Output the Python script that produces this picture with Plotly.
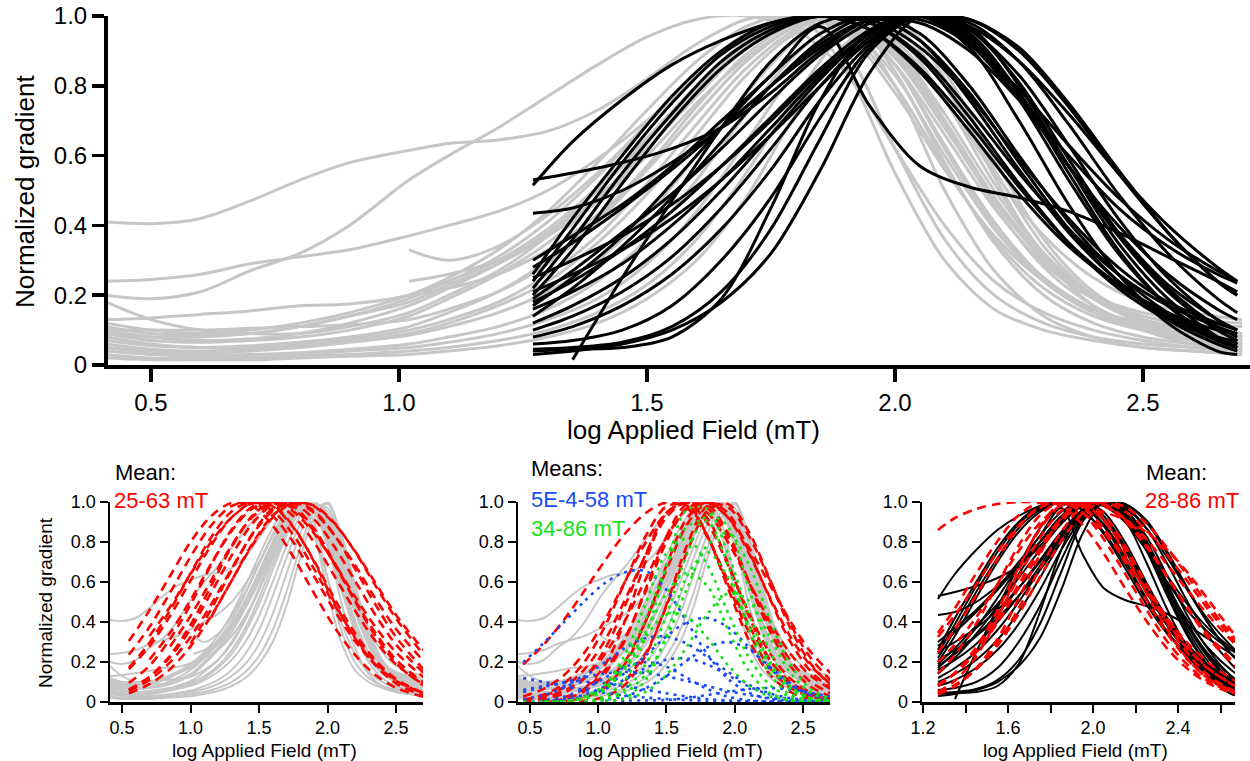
import plotly.graph_objects as go

# ---------------- data ----------------
X_GRAY = [0.41, 0.5, 0.6, 0.7, 0.8, 0.9, 1.02, 1.1, 1.2, 1.3, 1.4, 1.5, 1.6, 1.7, 1.8, 1.9, 2.0, 2.1, 2.2, 2.3, 2.4, 2.5, 2.6, 2.7]
N = None
GRAY = [
    [.41, .405, .42, .47, .53, .58, .615, .635, .645, .67, .73, .82, .92, .99, 1.00, .95, .78, .56, .37, .24, .16, .12, .10, .08],
    [.20, .19, .21, .27, .32, .40, .53, .60, .68, .77, .86, .94, .99, 1.00, .96, .84, .62, .40, .24, .15, .10, .07, .05, .04],
    [.24, .245, .26, .29, .31, .33, .37, .40, .44, .50, .59, .70, .83, .94, 1.00, .99, .88, .68, .47, .30, .19, .13, .10, .08],
    [.18, .13, .10, .09, .09, .11, .15, .20, .27, .37, .50, .65, .80, .93, 1.00, .96, .80, .57, .36, .22, .14, .10, .08, .07],
    [.13, .135, .145, .155, .17, .175, .20, .24, .31, .41, .54, .69, .84, .95, 1.00, .90, .62, .36, .20, .12, .08, .06, .05, .04],
    [.12, .10, .09, .10, .12, .15, .20, .25, .33, .44, .58, .73, .87, .97, 1.00, .85, .55, .30, .16, .10, .07, .05, .04, .03],
    [.11, .09, .085, .09, .11, .14, .19, .24, .30, .39, .51, .65, .80, .93, 1.00, .98, .86, .66, .45, .29, .19, .14, .12, .11],
    [.10, .08, .07, .075, .09, .12, .17, .22, .29, .38, .50, .64, .79, .92, .99, 1.00, .90, .70, .48, .30, .19, .13, .10, .08],
    [.09, .07, .065, .07, .08, .10, .14, .19, .26, .35, .47, .62, .78, .91, .99, 1.00, .86, .62, .40, .24, .15, .10, .07, .05],
    [.08, .06, .05, .055, .065, .08, .11, .15, .21, .30, .42, .57, .74, .89, .98, 1.00, .91, .72, .50, .32, .20, .14, .11, .09],
    [.07, .055, .05, .05, .06, .075, .10, .13, .18, .26, .37, .52, .69, .85, .96, 1.00, .84, .58, .35, .20, .12, .08, .06, .05],
    [.06, .045, .04, .045, .055, .07, .09, .12, .17, .24, .35, .49, .66, .83, .95, .98, .80, .50, .27, .14, .08, .05, .04, .03],
    [.05, .04, .035, .04, .05, .065, .085, .11, .15, .21, .30, .43, .60, .78, .93, 1.00, .92, .70, .46, .28, .17, .11, .08, .06],
    [.05, .035, .03, .03, .035, .045, .06, .08, .11, .16, .24, .36, .53, .72, .89, .99, .95, .76, .52, .32, .19, .12, .08, .06],
    [.04, .03, .025, .025, .03, .04, .05, .065, .09, .13, .19, .29, .44, .64, .84, .98, .97, .80, .56, .34, .20, .12, .08, .05],
    [.03, .02, .02, .02, .025, .03, .04, .05, .07, .10, .15, .23, .36, .55, .77, .95, .99, .84, .59, .36, .21, .13, .08, .05],
    [.02, .015, .015, .015, .02, .025, .03, .04, .055, .08, .12, .19, .30, .48, .72, .92, 1.00, .82, .54, .31, .17, .10, .06, .04],
    [.09, .08, .08, .09, .11, .14, .18, .23, .29, .37, .47, .60, .75, .88, .97, 1.00, .93, .76, .55, .37, .25, .18, .15, .13],
    [.10, .10, .10, .105, .11, .115, .13, .16, .21, .29, .41, .56, .72, .87, .97, 1.00, .89, .69, .48, .31, .20, .15, .13, .12],
    [N, N, N, N, N, N, .33, .30, .34, .43, .55, .69, .83, .94, 1.00, .97, .83, .60, .39, .24, .15, .10, .08, .06],
    [N, N, N, N, N, N, .24, .26, .30, .37, .48, .62, .77, .91, .99, .99, .86, .63, .41, .25, .16, .11, .09, .07],
    [N, N, N, N, N, N, .20, .22, .26, .33, .43, .56, .72, .87, .97, 1.00, .90, .70, .48, .30, .19, .13, .10, .08],
]

X_BLACK = [1.27, 1.35, 1.45, 1.55, 1.65, 1.75, 1.85, 1.95, 2.05, 2.15, 2.25, 2.35, 2.45, 2.55, 2.65, 2.69]
BLACK = [
    [.26, .42, .60, .77, .90, .98, 1.00, .96, .84, .67, .49, .34, .23, .15, .10, .09],
    [.24, .39, .58, .75, .89, .97, 1.00, .98, .89, .73, .55, .39, .26, .17, .11, .09],
    [.22, .36, .55, .72, .87, .96, 1.00, .99, .91, .77, .59, .42, .28, .18, .12, .10],
    [.20, .33, .52, .70, .85, .95, 1.00, .98, .88, .71, .52, .35, .22, .13, .08, .06],
    [.515, .64, .76, .86, .93, .98, 1.00, .96, .85, .69, .51, .35, .23, .14, .08, .07],
    [.53, .55, .58, .62, .68, .78, .90, .99, .98, .90, .76, .60, .45, .34, .26, .235],
    [.435, .45, .50, .58, .68, .80, .92, .99, .99, .92, .79, .63, .48, .36, .27, .24],
    [.28, .35, .45, .56, .68, .80, .91, .99, 1.00, .92, .76, .57, .40, .26, .16, .13],
    [.19, .27, .38, .49, .62, .76, .89, .98, 1.00, .93, .77, .57, .38, .23, .13, .10],
    [.18, .24, .33, .44, .57, .71, .85, .96, 1.00, .97, .87, .72, .55, .40, .28, .24],
    [.16, .21, .29, .40, .53, .68, .83, .95, 1.00, .96, .83, .63, .42, .25, .13, .10],
    [.21, .26, .33, .42, .53, .66, .80, .93, 1.00, .99, .90, .74, .55, .38, .24, .20],
    [.25, .30, .37, .46, .57, .70, .84, .95, 1.00, .94, .78, .57, .37, .21, .10, .07],
    [.06, .07, .10, .17, .30, .48, .71, .91, 1.00, .94, .76, .53, .32, .17, .08, .06],
    [.045, .05, .065, .11, .21, .39, .65, .90, 1.00, .95, .78, .55, .33, .17, .07, .05],
    [.04, .045, .05, .08, .19, .45, .76, .96, 1.00, .91, .70, .46, .26, .12, .04, .03],
    [N, .015, .25, .47, .68, .87, .98, 1.00, .93, .78, .58, .39, .24, .13, .06, .04],
    [.30, .37, .46, .57, .70, .83, .97, .74, .57, .51, .48, .44, .38, .31, .24, .21],
    [.12, .17, .25, .36, .50, .66, .82, .95, 1.00, .99, .91, .75, .56, .38, .24, .20],
    [.10, .14, .21, .31, .45, .62, .80, .94, 1.00, .98, .87, .69, .49, .32, .19, .15],
    [.08, .11, .17, .26, .39, .56, .76, .92, 1.00, .96, .81, .59, .38, .22, .11, .08],
    [.03, .04, .06, .10, .18, .32, .56, .84, 1.00, .97, .80, .57, .35, .19, .08, .05],
    [.17, .25, .37, .52, .68, .83, .95, 1.00, .93, .76, .56, .38, .24, .14, .07, .05],
    [.14, .22, .34, .48, .64, .80, .93, 1.00, .95, .80, .60, .41, .26, .15, .08, .06],
]

# panel 1: single-component fits (red dashed)
X_FIT1 = [0.55, 0.7, 0.85, 1.0, 1.15, 1.3, 1.45, 1.6, 1.75, 1.9, 2.05, 2.2, 2.35, 2.5, 2.7]
RED1 = [
    [.305, .458, .63, .80, .93, .995, .98, .882, .726, .546, .375, .236, .135, .071, .026],
    [.236, .375, .546, .726, .882, .98, .995, .93, .80, .63, .458, .305, .188, .106, .044],
    [.172, .296, .458, .643, .823, .953, 1.0, .956, .835, .667, .487, .325, .198, .110, .044],
    [.164, .278, .430, .607, .783, .923, .995, .978, .873, .708, .517, .345, .209, .115, .044],
    [.095, .181, .315, .487, .685, .863, .976, .995, .93, .80, .63, .458, .305, .188, .087],
    [N, .212, .345, .51, .69, .855, .967, 1.0, .953, .845, .694, .528, .375, .248, .125],
    [.059, .125, .232, .386, .58, .777, .93, 1.0, .967, .855, .69, .51, .345, .212, .097],
    [N, N, .278, .43, .607, .783, .923, .995, .978, .868, .697, .504, .33, .195, .083],
    [.063, .125, .224, .365, .546, .732, .891, .986, .991, .915, .777, .607, .435, .287, .146],
    [N, N, N, .292, .463, .66, .84, .967, .998, .947, .835, .685, .517, .365, .205],
    [.056, .110, .198, .325, .487, .667, .835, .956, 1.0, .956, .835, .667, .487, .325, .164],
    [N, N, N, N, .424, .607, .79, .932, .998, .978, .891, .755, .595, .435, .26],
    [N, .33, .475, .64, .80, .923, .992, .984, .878, .703, .498, .32, .184, .093, .032],
    [.044, .089, .164, .278, .43, .607, .783, .923, .995, .982, .895, .752, .582, .418, .236],
]

# panel 2: two-component fits
X_FIT2 = [0.45, 0.6, 0.75, 0.9, 1.05, 1.2, 1.35, 1.5, 1.65, 1.8, 1.95, 2.1, 2.25, 2.4, 2.55, 2.7]
RED2 = [
    [.187, .287, .412, .557, .708, .845, .946, .997, .969, .823, .607, .389, .216, .104, .044, .016],
    [.012, .036, .093, .201, .38, .607, .833, .978, .982, .83, .589, .354, .177, .074, .027, .008],
    [.004, .014, .045, .12, .266, .487, .743, .944, .997, .895, .685, .452, .252, .122, .05, .018],
    [N, .03, .074, .164, .31, .517, .738, .923, 1.0, .919, .695, .435, .22, .093, .032, .009],
    [.001, .004, .016, .053, .143, .315, .57, .83, .989, .969, .823, .607, .389, .216, .104, .044],
    [N, N, .023, .066, .159, .325, .557, .80, .969, .986, .845, .607, .365, .187, .08, .028],
    [N, .001, .006, .023, .074, .195, .407, .682, .919, 1.0, .923, .749, .534, .335, .187, .091],
    [N, N, N, N, .089, .209, .407, .66, .887, 1.0, .944, .76, .528, .31, .159, .068],
    [N, N, .001, .006, .026, .089, .236, .487, .783, .98, .975, .835, .62, .40, .226, .11],
    [N, N, N, N, N, .106, .248, .48, .749, .956, .99, .855, .625, .38, .198, .085],
    [.028, .066, .135, .248, .412, .607, .80, .946, 1.0, .946, .80, .607, .412, .248, .135, .066],
    [.008, .022, .056, .122, .24, .412, .618, .825, .967, .997, .923, .777, .595, .412, .256, .146],
    [N, N, N, .066, .187, .412, .708, .946, .989, .83, .57, .315, .143, .053, .016, .003],
]
BLUE2 = [
    [.198, .295, .40, .505, .595, .65, .654, .56, .40, .238, .117, .048, .016, .005, .001, 0],
    [.002, .005, .015, .037, .079, .147, .234, .329, .398, .42, .373, .277, .171, .088, .037, .013],
    [.015, .034, .071, .128, .20, .272, .32, .327, .291, .225, .151, .088, .045, .02, .007, .002],
    [N, .004, .011, .03, .064, .115, .171, .211, .218, .187, .134, .079, .039, .016, .006, .002],
    [.12, .10, .08, .06, .045, .032, .022, .015, .01, .006, .004, .002, .001, 0, 0, 0],
    [.05, .075, .10, .125, .143, .15, .145, .128, .105, .08, .055, .035, .02, .011, .005, .002],
    [N, N, N, .001, .011, .03, .07, .13, .207, .274, .30, .265, .182, .098, .04, .013],
    [.06, .08, .095, .10, .095, .08, .062, .043, .027, .015, .008, .004, .001, 0, 0, 0],
    [N, N, N, N, .006, .007, .008, .01, .02, .035, .05, .065, .07, .062, .045, .028],
    [.002, .009, .027, .065, .121, .176, .2, .176, .121, .065, .027, .009, .002, 0, 0, 0],
]
GREEN2 = [
    [N, N, N, .004, .028, .115, .334, .679, .962, .964, .743, .447, .209, .076, .022, .005],
    [N, N, N, .002, .016, .065, .19, .435, .738, .935, .877, .577, .264, .085, .019, .003],
    [N, .001, .002, .023, .089, .243, .498, .745, .816, .685, .448, .228, .09, .028, .007, .001],
    [N, N, N, N, .003, .023, .112, .335, .63, .749, .623, .39, .183, .065, .017, .004],
    [N, N, N, .002, .013, .048, .14, .319, .567, .785, .845, .693, .424, .197, .068, .018],
    [.001, .001, .003, .022, .072, .181, .355, .543, .647, .579, .362, .159, .048, .01, .002, 0],
    [.001, .001, .003, .015, .061, .169, .327, .441, .426, .319, .185, .084, .03, .008, .002, 0],
    [N, N, N, N, .003, .015, .052, .136, .277, .44, .542, .508, .334, .153, .049, .011],
    [N, .001, .004, .027, .084, .21, .421, .679, .877, .904, .684, .368, .146, .04, .008, .001],
]

# panel 3: fits of the black curves
X_FIT3 = [1.27, 1.35, 1.45, 1.55, 1.65, 1.75, 1.85, 1.95, 2.05, 2.15, 2.25, 2.35, 2.45, 2.55, 2.67]
RED3 = [
    [.86, .92, .965, .99, 1.0, .998, .99, .975, .95, .91, .85, .76, .64, .50, .33],
    [.248, .365, .534, .714, .874, .978, .997, .948, .848, .712, .563, .416, .289, .189, .104],
    [.143, .236, .392, .588, .783, .934, 1.0, .969, .868, .72, .557, .396, .26, .159, .08],
    [.08, .146, .274, .458, .673, .864, .984, .989, .908, .76, .588, .418, .27, .161, .078],
    [.083, .143, .265, .43, .625, .82, .956, 1.0, .934, .783, .588, .392, .236, .127, .052],
    [.085, .143, .252, .407, .588, .772, .919, .996, .984, .904, .777, .625, .464, .325, .191],
    [.044, .083, .164, .292, .469, .667, .85, .974, .998, .953, .86, .732, .595, .452, .30],
    [.047, .085, .164, .282, .44, .625, .804, .944, 1.0, .975, .894, .769, .622, .472, .313],
    [.345, .469, .643, .804, .934, .997, .98, .887, .743, .57, .407, .266, .161, .089, .04],
    [.051, .106, .228, .418, .655, .874, .993, .976, .868, .70, .51, .34, .205, .112, .047],
    [.038, .078, .168, .315, .517, .738, .919, 1.0, .98, .915, .815, .685, .552, .424, .287],
    [.325, .435, .588, .749, .882, .972, 1.0, .946, .815, .643, .464, .301, .18, .099, .042],
    [.087, .143, .248, .396, .57, .749, .904, .989, .99, .915, .788, .625, .458, .31, .177],
    [.198, .287, .424, .588, .755, .895, .982, .995, .912, .743, .546, .36, .209, .11, .044],
]

Y_TICKS = [0, 0.2, 0.4, 0.6, 0.8, 1.0]
Y_TICKTEXT = ["0", "0.2", "0.4", "0.6", "0.8", "1.0"]
X_TICKS = [0.5, 1.0, 1.5, 2.0, 2.5]
X_TICKTEXT = ["0.5", "1.0", "1.5", "2.0", "2.5"]
X3_TICKS = [1.2, 1.4, 1.6, 1.8, 2.0, 2.2, 2.4, 2.6]
X3_TICKTEXT = ["1.2", "", "1.6", "", "2.0", "", "2.4", ""]

# ---------------- figure ----------------
W, H = 1250, 761
FONT = "Liberation Sans, Arial, Helvetica, sans-serif"
GRAY_C = "#c6c6c6"
RED_C = "#ff0000"
BLUE_C = "#1a4cf5"
GREEN_C = "#16e016"

fig = go.Figure()


def add(xs, ys, xa, ya, color, width, dash="solid"):
    fig.add_trace(go.Scatter(
        x=xs, y=ys, mode="lines", xaxis=xa, yaxis=ya,
        line=dict(color=color, width=width, dash=dash, shape="spline", smoothing=0.9),
        hoverinfo="skip", showlegend=False))


# top panel
for ys in GRAY:
    add(X_GRAY, ys, "x", "y", GRAY_C, 3)
for ys in BLACK:
    add(X_BLACK, ys, "x", "y", "black", 3)

# panel 1
for ys in GRAY:
    add(X_GRAY, ys, "x2", "y2", GRAY_C, 2)
for ys in RED1:
    add(X_FIT1, ys, "x2", "y2", RED_C, 2.6, "9px,6px")

# panel 2
for ys in GRAY:
    add(X_GRAY, ys, "x3", "y3", GRAY_C, 2)
for ys in RED2:
    add(X_FIT2, ys, "x3", "y3", RED_C, 2.6, "9px,6px")
for ys in BLUE2:
    add(X_FIT2, ys, "x3", "y3", BLUE_C, 2.6, "3px,5px")
for ys in GREEN2:
    add(X_FIT2, ys, "x3", "y3", GREEN_C, 2.6, "3px,5px")

# panel 3
for ys in BLACK:
    add(X_BLACK, ys, "x4", "y4", "black", 2)
for ys in RED3:
    add(X_FIT3, ys, "x4", "y4", RED_C, 2.6, "9px,6px")


def px2x(p):
    return p / W


def py2y(p):
    return 1 - p / H


def xaxis(domain, rng, anchor, tv, tt, big):
    return dict(domain=domain, range=rng, anchor=anchor, showline=True, automargin=False,
                linecolor="black", linewidth=4 if big else 2.5,
                ticks="outside", ticklen=13 if big else 8, tickwidth=3.5 if big else 2,
                tickcolor="black", tickvals=tv, ticktext=tt,
                tickfont=dict(family=FONT, size=24 if big else 18, color="black"),
                showgrid=False, zeroline=False, fixedrange=True)


def yaxis(domain, anchor, big):
    return dict(domain=domain, range=[0, 1], anchor=anchor, showline=True, automargin=False,
                linecolor="black", linewidth=4 if big else 2.5,
                ticks="outside", ticklen=12 if big else 8, tickwidth=3.5 if big else 2,
                tickcolor="black", tickvals=Y_TICKS, ticktext=Y_TICKTEXT,
                tickfont=dict(family=FONT, size=24 if big else 18, color="black"),
                showgrid=False, zeroline=False, fixedrange=True)


top_y = [py2y(365), py2y(16)]
bot_y = [py2y(702), py2y(502)]

fig.update_layout(
    width=W, height=H, autosize=False,
    margin=dict(l=0, r=0, t=0, b=0, autoexpand=False),
    paper_bgcolor="white", plot_bgcolor="white",
    font=dict(family=FONT, color="black"),
    xaxis=xaxis([px2x(108), 1.0], [0.4133, 2.7157], "y", X_TICKS, X_TICKTEXT, True),
    yaxis=yaxis(top_y, "x", True),
    xaxis2=xaxis([px2x(110), px2x(423)], [0.412, 2.697], "y2", X_TICKS, X_TICKTEXT, False),
    yaxis2=yaxis(bot_y, "x2", False),
    xaxis3=xaxis([px2x(518), px2x(830)], [0.412, 2.698], "y3", X_TICKS, X_TICKTEXT, False),
    yaxis3=yaxis(bot_y, "x3", False),
    xaxis4=xaxis([px2x(922), px2x(1235)], [1.195, 2.668], "y4", X3_TICKS, X3_TICKTEXT, False),
    yaxis4=yaxis(bot_y, "x4", False),
)


def note(text, x, y, size, color="black", xanchor="center", angle=0):
    fig.add_annotation(text=text, x=px2x(x), y=py2y(y), xref="paper", yref="paper",
                       xanchor=xanchor, yanchor="middle", showarrow=False, textangle=angle,
                       font=dict(family=FONT, size=size, color=color), borderpad=0)


note("Normalized gradient", 25, 192, 26, angle=-90)
note("log Applied Field (mT)", 693, 430, 26)
note("Normalized gradient", 45, 603, 19, angle=-90)
note("log Applied Field (mT)", 264, 750, 19)
note("log Applied Field (mT)", 670, 750, 19)
note("log Applied Field (mT)", 1075, 750, 19)
note("Mean:", 114, 472, 22, xanchor="left")
note("25-63 mT", 113, 501, 22, RED_C, xanchor="left")
note("Means:", 530, 468, 22, xanchor="left")
note("5E-4-58 mT", 530, 499, 22, BLUE_C, xanchor="left")
note("34-86 mT", 530, 528, 22, GREEN_C, xanchor="left")
note("Mean:", 1145, 472, 22, xanchor="left")
note("28-86 mT", 1144, 500, 22, RED_C, xanchor="left")

fig.write_html(
    "out.html",
    config={"displayModeBar": False, "staticPlot": True},
    post_script="document.body.style.margin='0px';document.body.style.overflow='hidden';",
)
